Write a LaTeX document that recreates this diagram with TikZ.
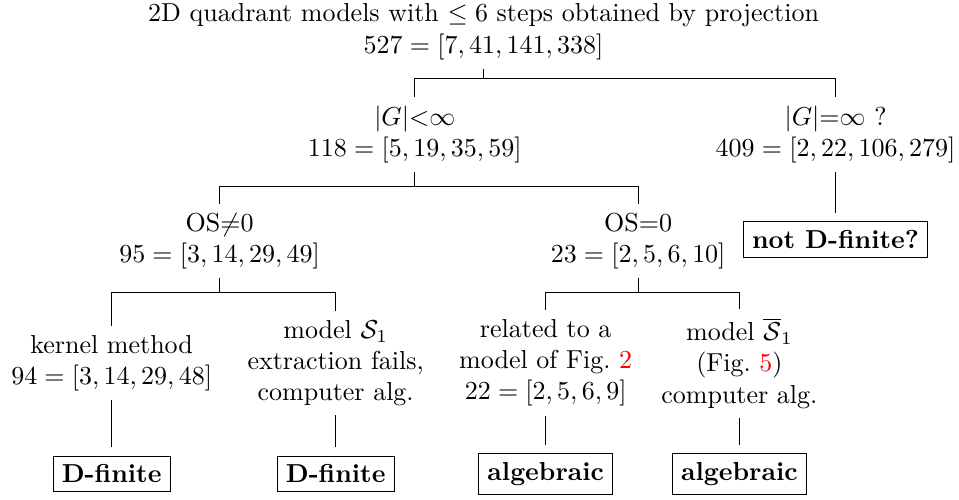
\documentclass[tikz,border=0pt]{standalone}
\usepackage{xcolor}
\begin{document}
\begin{tikzpicture}[txt/.style={align=center}, res/.style={draw, font=\bfseries, outer sep=3.5pt}]
\useasboundingbox (0,0) rectangle (12.97,6.76);

\node[txt] (root) at (6.54,6.33) {2D quadrant models with $\leq 6$ steps obtained by projection\\ $527=[7,41,141,338]$};
\node[txt] (fin) at (5.61,4.94) {$|G|{<}\infty$\\ $118=[5,19,35,59]$};
\node[txt] (inf) at (11.30,4.94) {$|G|{=}\infty$ ?\\ $409=[2,22,106,279]$};
\node[txt] (osn) at (2.97,3.50) {OS$\neq$0\\ $95=[3,14,29,49]$};
\node[txt] (osz) at (8.63,3.50) {OS$=$0\\ $23=[2,5,6,10]$};
\node[res] (nd) at (11.30,3.52) {not D-finite?};

\node[txt] (ker) at (1.51,1.85) {kernel method\\ $94=[3,14,29,48]$};
\node[txt] (ext) at (4.54,1.85) {model $\mathcal{S}_1$\\ extraction fails,\\ computer alg.};
\node[txt] (rel) at (7.38,1.85) {related to a\\ model of Fig.~\textcolor{red}{2}\\ $22=[2,5,6,9]$};
\node[txt] (bar) at (10.00,1.85) {model $\overline{\mathcal{S}}_1$\\ (Fig.~\textcolor{red}{5})\\ computer alg.};

\node[res] (ker2) at (1.51,0.35) {D-finite};
\node[res] (ext2) at (4.54,0.35) {D-finite};
\node[res] (rel2) at (7.38,0.35) {algebraic};
\node[res] (bar2) at (10.00,0.35) {algebraic};

\path[draw] (root.south) -- ++(0,-0.13) -| (fin.north);
\path[draw] (root.south) -- ++(0,-0.13) -| (inf.north);
\path[draw] (fin.south) -- ++(0,-0.19) -| (osn.north);
\path[draw] (fin.south) -- ++(0,-0.19) -| (osz.north);
\path[draw] (inf.south) -- (nd.north);
\path[draw] (osn.south) -- ++(0,-0.19) -| (ker.north);
\path[draw] (osn.south) -- ++(0,-0.19) -| (ext.north);
\path[draw] (osz.south) -- ++(0,-0.19) -| (rel.north);
\path[draw] (osz.south) -- ++(0,-0.19) -| (bar.north);

\path[draw] (ker) -- (ker2);
\path[draw] (ext) -- (ext2);
\path[draw] (rel) -- (rel2);
\path[draw] (bar) -- (bar2);
\end{tikzpicture}
\end{document}
